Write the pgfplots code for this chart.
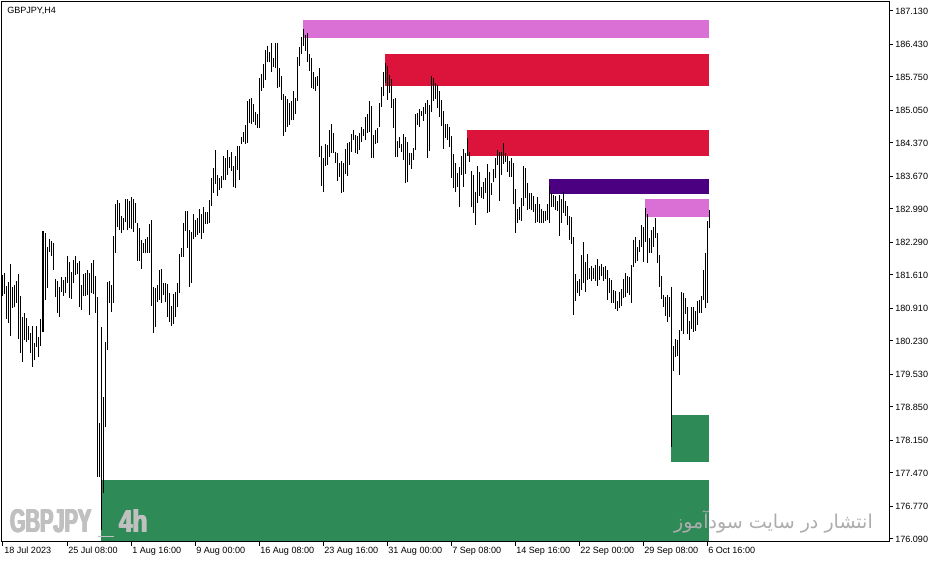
\documentclass[border=0pt]{standalone}
\usepackage{pgfplots}
\pgfplotsset{compat=1.18}
\usepackage{pgfplotstable}
\usepackage{fontspec}
\setmainfont{Liberation Sans}
\newfontfamily\arabicfont[Script=Arabic]{DejaVu Sans}
\TeXXeTstate=1

\definecolor{zpink}{HTML}{DA70D6}
\definecolor{zred}{HTML}{DC143C}
\definecolor{zindigo}{HTML}{4B0082}
\definecolor{zgreen}{HTML}{2E8B57}
\definecolor{wmgray}{RGB}{192,192,192}

% GBPJPY H4 bars: index, high, low
\pgfplotstableread{
i hi lo
0 181.61 181.17
1 181.65 181.21
2 181.38 180.69
3 181.46 180.61
4 181.84 180.34
5 181.36 180.92
6 181.40 180.94
7 181.49 181.03
8 181.63 180.27
9 181.17 179.98
10 180.73 179.79
11 180.82 180.25
12 180.71 180.21
13 180.55 180.25
14 180.40 179.98
15 180.55 179.69
16 180.19 179.83
17 180.55 180.11
18 180.31 179.90
19 180.69 180.13
20 182.53 180.42
21 182.49 181.09
22 182.20 181.34
23 182.36 182.09
24 182.32 182.01
25 182.28 181.72
26 181.53 181.15
27 181.49 180.82
28 181.36 180.73
29 181.57 181.26
30 181.51 181.17
31 181.57 181.23
32 182.01 181.44
33 181.88 181.13
34 181.67 181.11
35 181.92 181.44
36 182.01 181.61
37 181.86 181.63
38 181.90 180.94
39 181.40 180.88
40 181.63 181.17
41 181.65 181.17
42 181.72 181.19
43 181.65 180.77
44 181.86 181.23
45 181.92 181.21
46 181.59 180.82
47 181.15 177.39
48 178.52 177.39
49 180.52 176.28
50 179.06 177.05
51 180.21 178.43
52 181.46 180.04
53 181.49 181.03
54 181.40 180.84
55 182.43 181.03
56 183.10 182.07
57 183.18 182.61
58 183.12 182.55
59 182.85 182.49
60 182.80 182.55
61 183.20 182.72
62 183.20 182.55
63 183.16 182.59
64 183.24 182.57
65 183.20 182.51
66 183.12 182.70
67 182.70 181.90
68 182.59 181.90
69 182.34 181.74
70 182.28 182.07
71 182.36 182.07
72 182.40 182.07
73 182.68 182.07
74 182.76 180.96
75 181.36 180.40
76 181.34 180.52
77 181.40 181.05
78 181.72 181.09
79 181.74 181.03
80 181.44 181.19
81 181.44 181.05
82 181.42 180.73
83 181.23 180.63
84 180.96 180.55
85 181.21 180.59
86 181.25 180.73
87 181.44 180.94
88 182.05 181.23
89 182.18 181.99
90 182.70 181.99
91 182.95 182.53
92 182.95 182.18
93 182.55 181.36
94 182.51 181.44
95 182.89 182.36
96 182.76 182.40
97 182.80 182.45
98 182.99 182.49
99 182.89 182.36
100 183.03 182.49
101 182.93 182.68
102 182.93 182.68
103 183.18 182.70
104 183.64 183.05
105 183.85 183.33
106 184.22 183.51
107 183.70 183.26
108 183.64 183.39
109 183.68 183.43
110 184.10 183.60
111 184.06 183.60
112 184.22 183.70
113 184.08 183.85
114 184.18 183.79
115 183.89 183.45
116 184.10 183.43
117 184.31 183.81
118 184.31 183.60
119 184.50 184.35
120 184.60 184.39
121 184.75 184.35
122 185.25 184.37
123 185.29 184.79
124 185.31 184.77
125 185.18 184.81
126 185.02 184.75
127 184.98 184.69
128 185.73 184.69
129 185.81 185.46
130 186.02 185.52
131 186.31 185.69
132 186.40 186.06
133 186.27 186.06
134 186.46 185.85
135 186.15 185.96
136 186.46 185.94
137 186.46 185.52
138 185.94 185.54
139 185.77 185.27
140 185.40 184.52
141 185.35 184.60
142 185.29 184.71
143 185.21 184.75
144 185.25 184.85
145 185.46 184.85
146 185.31 184.98
147 186.17 185.25
148 186.38 185.98
149 186.59 186.23
150 186.75 186.40
151 186.63 186.29
152 186.67 186.06
153 186.23 185.88
154 186.15 185.52
155 185.85 185.50
156 185.75 185.46
157 185.77 185.56
158 185.94 184.08
159 184.31 183.47
160 184.06 183.35
161 184.35 183.89
162 184.33 183.91
163 184.64 184.08
164 184.77 184.16
165 184.58 184.16
166 184.18 183.95
167 184.16 183.58
168 183.95 183.66
169 184.00 183.33
170 183.95 183.35
171 184.24 183.72
172 184.37 183.68
173 184.39 183.91
174 184.56 184.18
175 184.64 184.43
176 184.54 184.16
177 184.52 184.14
178 184.58 184.22
179 184.71 184.39
180 184.66 184.52
181 184.91 184.43
182 184.98 184.58
183 185.25 184.60
184 185.14 184.06
185 184.54 184.06
186 184.64 184.35
187 184.68 184.37
188 185.21 184.71
189 185.54 185.12
190 185.85 185.35
191 186.04 185.62
192 185.98 185.27
193 185.79 185.42
194 185.71 185.10
195 185.29 184.69
196 185.31 184.08
197 184.41 184.08
198 184.50 184.27
199 184.35 184.18
200 184.56 184.02
201 184.50 183.53
202 184.39 183.55
203 184.16 183.91
204 184.16 183.83
205 184.27 184.02
206 184.98 184.22
207 185.00 184.75
208 185.08 184.71
209 185.04 184.94
210 185.12 184.83
211 185.21 184.98
212 185.27 184.06
213 185.16 184.20
214 185.77 185.02
215 185.73 185.25
216 185.62 185.29
217 185.58 185.10
218 185.46 184.91
219 185.27 184.73
220 185.04 184.25
221 184.77 184.47
222 184.77 184.43
223 184.71 184.29
224 184.52 183.64
225 184.14 183.43
226 183.95 183.35
227 183.74 183.45
228 183.87 183.03
229 184.10 183.70
230 184.24 183.45
231 184.16 183.72
232 184.47 184.10
233 184.18 183.97
234 183.78 183.03
235 183.70 182.91
236 183.35 182.66
237 183.89 183.12
238 183.76 183.26
239 183.45 183.22
240 183.55 183.20
241 183.64 183.33
242 183.93 182.91
243 183.76 182.93
244 183.53 183.28
245 183.83 183.55
246 184.06 183.64
247 184.22 183.91
248 184.18 183.16
249 184.18 183.70
250 184.37 183.93
251 184.16 183.97
252 184.10 183.76
253 184.00 183.66
254 184.06 183.66
255 183.95 183.10
256 183.41 182.49
257 182.99 182.70
258 183.03 182.76
259 183.22 182.74
260 183.89 183.05
261 183.85 183.22
262 183.53 182.97
263 183.33 182.99
264 183.33 182.97
265 183.26 182.93
266 183.10 182.70
267 183.24 182.72
268 183.10 182.70
269 182.99 182.70
270 182.95 182.70
271 182.95 182.74
272 183.10 182.76
273 183.47 182.70
274 183.33 183.03
275 183.28 183.03
276 183.26 182.97
277 183.16 182.95
278 183.28 182.43
279 183.20 182.70
280 183.35 182.91
281 183.16 182.85
282 183.05 182.66
283 182.85 182.34
284 182.82 182.26
285 182.40 180.77
286 181.63 181.07
287 181.49 181.23
288 181.53 181.17
289 182.03 181.30
290 182.30 181.44
291 181.88 181.25
292 182.05 181.51
293 181.76 181.53
294 181.80 181.49
295 181.76 181.53
296 181.82 181.49
297 181.95 181.38
298 181.80 181.51
299 181.84 181.59
300 181.78 181.49
301 181.80 181.53
302 181.72 181.09
303 181.55 181.23
304 181.51 181.03
305 181.30 181.03
306 181.28 180.90
307 181.07 180.86
308 181.25 180.92
309 181.32 180.96
310 181.53 181.13
311 181.65 181.15
312 181.59 181.23
313 181.57 181.19
314 181.82 181.03
315 182.34 181.78
316 182.40 181.86
317 182.20 181.90
318 182.34 182.09
319 182.66 182.20
320 182.61 181.88
321 183.01 182.30
322 182.89 181.86
323 182.38 182.07
324 182.55 182.07
325 182.61 182.20
326 182.80 182.38
327 182.49 181.86
328 182.03 181.36
329 181.59 181.11
330 181.19 180.94
331 181.15 180.75
332 181.19 180.63
333 181.15 180.73
334 181.36 178.01
335 180.13 179.60
336 180.27 179.90
337 180.25 179.92
338 180.46 179.52
339 181.25 180.44
340 181.23 180.38
341 181.13 180.80
342 180.94 180.38
343 180.65 180.25
344 180.94 180.48
345 180.94 180.42
346 180.86 180.44
347 181.07 180.57
348 181.09 180.82
349 181.17 180.82
350 181.72 181.09
351 182.07 180.92
352 182.74 181.03
353 182.97 182.59
}\bars

\begin{document}
\begin{tikzpicture}
\fill[white] (-1.5pt,-15.75pt) rectangle (699.75pt,406.5pt);
\useasboundingbox (-1.5pt,-15.75pt) rectangle (699.75pt,406.5pt);
\begin{axis}[
  at={(0pt,0pt)}, anchor=south west,
  scale only axis, width=665.25pt, height=405pt,
  xmin=-0.5, xmax=443,
  ymin=176.027, ymax=187.318,
  axis on top,
  axis line style={black, line width=0.75pt},
  xtick pos=left, ytick pos=right,
  yticklabel pos=right,
  tick align=outside,
  major tick length=3pt,
  tick style={black, line width=0.75pt},
  xtick={0,32,64,96,128,160,192,224,256,288,320,352},
  xticklabels={18 Jul 2023,25 Jul 08:00,1 Aug 16:00,9 Aug 00:00,16 Aug 08:00,23 Aug 16:00,31 Aug 00:00,7 Sep 08:00,14 Sep 16:00,22 Sep 00:00,29 Sep 08:00,6 Oct 16:00},
  ytick={187.13,186.43,185.75,185.05,184.37,183.67,182.99,182.29,181.61,180.91,180.23,179.53,178.85,178.15,177.47,176.77,176.09},
  yticklabels={187.130,186.430,185.750,185.050,184.370,183.670,182.990,182.290,181.610,180.910,180.230,179.530,178.850,178.150,177.470,176.770,176.090},
  ticklabel style={font=\fontsize{6.8}{8}\selectfont, inner sep=0pt},
  xticklabel style={anchor=north west, xshift=0.75pt, yshift=-0.75pt},
  yticklabel style={anchor=west, xshift=1.5pt},
]
% supply / demand zones
\addplot[draw=none, fill=zpink] coordinates {(150,186.94) (353,186.94) (353,186.57) (150,186.57)} --cycle;
\addplot[draw=none, fill=zred] coordinates {(191,186.23) (353,186.23) (353,185.56) (191,185.56)} --cycle;
\addplot[draw=none, fill=zred] coordinates {(232,184.64) (353,184.64) (353,184.10) (232,184.10)} --cycle;
\addplot[draw=none, fill=zindigo] coordinates {(273,183.62) (353,183.62) (353,183.30) (273,183.30)} --cycle;
\addplot[draw=none, fill=zpink] coordinates {(321,183.20) (353,183.20) (353,182.82) (321,182.82)} --cycle;
\addplot[draw=none, fill=zgreen] coordinates {(334,178.68) (353,178.68) (353,177.70) (334,177.70)} --cycle;
\addplot[draw=none, fill=zgreen] coordinates {(49,177.325) (353,177.325) (353,175.9) (49,175.9)} --cycle;
% bars (high-low)
\addplot[black, line width=0.75pt, quiver={u=0, v=\thisrow{hi}-\thisrow{lo}}] table[x=i, y=lo] {\bars};
\end{axis}
\node[anchor=west, inner sep=0pt, font=\fontsize{6.8}{8}\selectfont] at (3.75pt,398.6pt) {GBPJPY,H4};
% heavy watermark: a few offset copies make the strokes thicker
\foreach \dx in {0pt,0.4pt,0.8pt,1.2pt}{
  \node[anchor=base west, inner sep=0pt, text=wmgray] at ([xshift=\dx]5.25pt,6.75pt) {\resizebox{61pt}{17.25pt}{\bfseries GBPJPY}};
  \node[anchor=base west, inner sep=0pt, text=wmgray] at ([xshift=\dx]87pt,6.75pt) {\resizebox{21.3pt}{17.25pt}{\bfseries 4h}};
}
\draw[wmgray, line width=0.75pt] (72pt,3.75pt) -- (84pt,3.75pt);
\node[anchor=center, inner sep=0pt, text=wmgray!90!black] at (578.6pt,15pt) {\resizebox{149pt}{!}{\arabicfont\beginR انتشار در سایت سودآموز\endR}};
\end{tikzpicture}
\end{document}
